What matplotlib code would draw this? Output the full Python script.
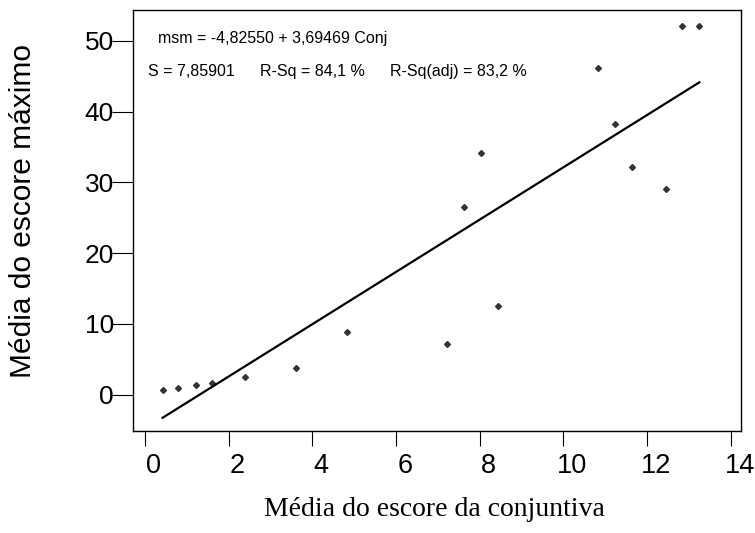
import matplotlib
matplotlib.use("Agg")
import matplotlib.pyplot as plt
import matplotlib.transforms as mtransforms
import numpy as np

# Média do escore da conjuntiva (x) vs média do escore máximo (y)
conj = [0.42, 0.80, 1.22, 1.60, 2.40, 3.62, 4.82, 7.22, 7.63, 8.02, 8.43,
        10.82, 11.24, 11.65, 12.45, 12.84, 13.25]
msm = [0.6, 0.9, 1.4, 1.7, 2.5, 3.7, 8.8, 7.2, 26.5, 34.1, 12.5,
       46.2, 38.2, 32.1, 29.0, 52.1, 52.1]

# coeficientes da regressão
b0 = -4.82550
b1 = 3.69469

xticks = [0, 2, 4, 6, 8, 10, 12, 14]
yticks = [0, 10, 20, 30, 40, 50]

plt.rcParams['font.family'] = ['Liberation Sans', 'DejaVu Sans']

fig = plt.figure(figsize=(7.55, 5.33), dpi=100)
ax = fig.add_axes([0.1768, 0.1919, 0.8046, 0.7893])

ax.plot(conj, msm, linestyle='none', marker='D', markersize=3,
        color='#333333')
xs = np.array([min(conj), max(conj)])
ax.plot(xs, b0 + b1 * xs, color='black', linewidth=1.6)

ax.set_xlim(-0.275, 14.245)
ax.set_ylim(-5.1, 54.35)
ax.set_xticks(xticks)
ax.set_yticks(yticks)
ax.tick_params(axis='x', direction='out', length=11, width=0.8,
               labelsize=19.5, pad=5)
ax.tick_params(axis='y', direction='out', length=15, width=0.8,
               labelsize=19, pad=-1)
for s in ax.spines.values():
    s.set_linewidth(1.0)

# rótulos do eixo x levemente deslocados para a direita
shift = mtransforms.ScaledTranslation(9 / 100, 0, fig.dpi_scale_trans)
for lbl in ax.get_xticklabels():
    lbl.set_transform(lbl.get_transform() + shift)

ax.text(0.041, 0.932, 'msm = -4,82550 + 3,69469 Conj', transform=ax.transAxes,
        fontsize=11.5, va='center', ha='left')
ax.text(0.0245, 0.853, 'S = 7,85901', transform=ax.transAxes,
        fontsize=11.5, va='center', ha='left')
ax.text(0.208, 0.853, 'R-Sq = 84,1 %', transform=ax.transAxes,
        fontsize=11.5, va='center', ha='left')
ax.text(0.422, 0.853, 'R-Sq(adj) = 83,2 %', transform=ax.transAxes,
        fontsize=11.5, va='center', ha='left')

fig.text(0.031, 0.605, 'Média do escore máximo', rotation=90,
         fontsize=21.5, ha='center', va='center')
fig.text(0.576, 0.045, 'Média do escore da conjuntiva',
         family='Liberation Serif', fontsize=20, ha='center', va='center')

fig.savefig('out.png', dpi=100)
